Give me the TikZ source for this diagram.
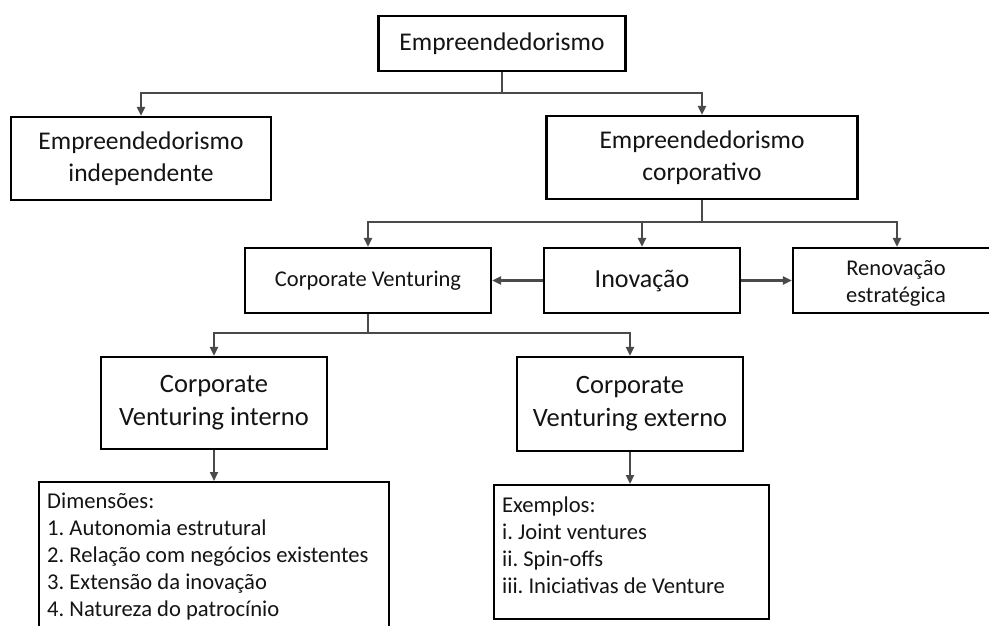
\documentclass[tikz,border=0pt]{standalone}
\usepackage{fontspec}
\setmainfont{Carlito}
\usetikzlibrary{arrows.meta}
\definecolor{linegray}{HTML}{4A4A4A}
\definecolor{inkblack}{HTML}{141414}
\frenchspacing
\begin{document}
\begin{tikzpicture}[x=1pt,y=-1pt,
  box/.style={draw=black, line width=2.4pt, fill=white, text=inkblack,
    inner sep=0pt, align=center},
  bigtxt/.style={font=\fontsize{25.5}{31.5}\selectfont},
  midtxt/.style={font=\fontsize{22.5}{27}\selectfont},
  listtxt/.style={font=\fontsize{22.6}{27}\selectfont, text=inkblack,
    align=left, inner sep=0pt, anchor=north west},
  conn/.style={draw=linegray, line width=2.2pt},
  arr/.style={conn, -{Triangle[length=9pt,width=8pt]}},
]
\useasboundingbox (0,0) rectangle (989,626);
\clip (0,0) rectangle (989,626);

% level 0 and 1
\node[box, bigtxt, minimum width=247pt, minimum height=55pt] (top) at (502,43.5) {Empreendedorismo};
\node[box, bigtxt, minimum width=260pt, minimum height=83pt] (indep) at (141,158.5) {Empreendedorismo\\independente};
\node[box, bigtxt, minimum width=311pt, minimum height=83pt] (corp) at (702,157.5) {Empreendedorismo\\corporativo};

% level 2
\node[box, midtxt, minimum width=246pt, minimum height=65pt] (cv) at (368,280.5) {Corporate Venturing};
\node[box, font=\fontsize{26}{31}\selectfont, minimum width=196pt, minimum height=65pt] (inov) at (642,280.5) {Inovação};
\node[box, minimum width=208pt, minimum height=65pt] (renov) at (897,280.5) {};
\node[midtxt, text=inkblack, align=center, inner sep=0pt] (renovtxt) at (896,283) {Renovação\\estratégica};

% level 3
\node[box, font=\fontsize{26.5}{33}\selectfont, minimum width=226pt, minimum height=92pt] (cvi) at (214,403) {Corporate\\Venturing interno};
\node[box, font=\fontsize{26.5}{33}\selectfont, minimum width=226pt, minimum height=94pt] (cve) at (630,404) {Corporate\\Venturing externo};

% level 4: lists
\node[box, anchor=north west, minimum width=350pt, minimum height=170pt] (dim) at (38,481) {};
\node[listtxt] (dimtxt) at (47,493) {Dimensões:\\1. Autonomia estrutural\\2. Relação com negócios existentes\\3. Extensão da inovação\\4. Natureza do patrocínio};
\node[box, anchor=north west, minimum width=275pt, minimum height=134pt] (ex) at (493,484) {};
\node[listtxt] (extxt) at (502,497) {Exemplos:\\i. Joint ventures\\ii. Spin-offs\\iii. Iniciativas de Venture};

% junction points of the branching connectors
\coordinate (j1) at (502,93);
\coordinate (j2) at (702,222);
\coordinate (j3) at (368,333);

\draw[conn] (top.south) -- (j1);
\draw[arr] (j1) -| (indep.north);
\draw[arr] (j1) -| (corp.north);

\draw[conn] (corp.south) -- (j2);
\draw[arr] (j2) -| (cv.north);
\draw[arr] (j2) -| (inov.north);
\draw[arr] (j2) -| (renov.north);

\draw[arr] (inov.west) -- (cv.east);
\draw[arr] (inov.east) -- (renov.west);

\draw[conn] (cv.south) -- (j3);
\draw[arr] (j3) -| (cvi.north);
\draw[arr] (j3) -| (cve.north);

\draw[arr] (cvi.south) -- (cvi.south |- dim.north);
\draw[arr] (cve.south) -- (cve.south |- ex.north);
\end{tikzpicture}
\end{document}
